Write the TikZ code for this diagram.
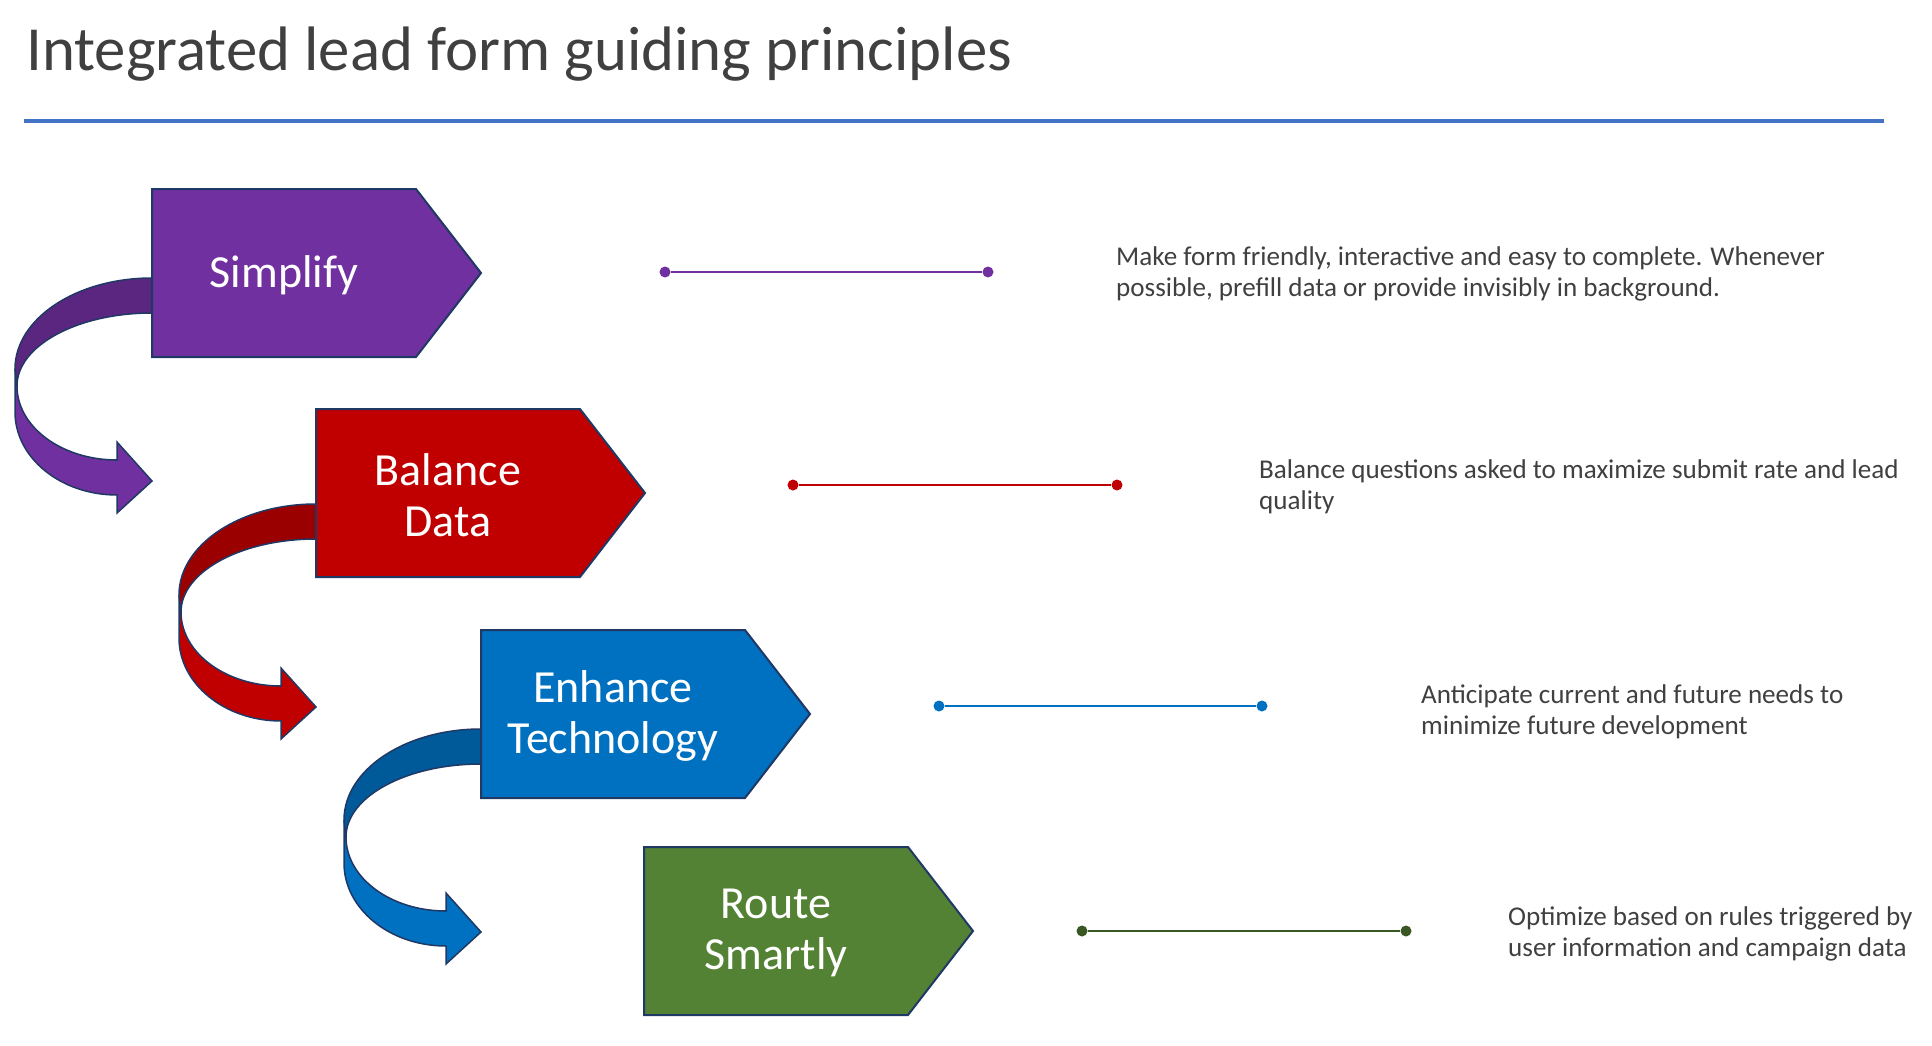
\documentclass[tikz,border=0pt]{standalone}
\usepackage{fontspec}
\setmainfont{Carlito}
\definecolor{cPurple}{HTML}{7030A0}
\definecolor{cRed}{HTML}{C00000}
\definecolor{cBlue}{HTML}{0070C0}
\definecolor{cGreen}{HTML}{548235}
\definecolor{cDarkGreen}{HTML}{385723}
\definecolor{cNavy}{HTML}{203864}
\definecolor{cText}{HTML}{404040}
\definecolor{cRule}{HTML}{4472C4}

% pentagon step box: name, left, top, fill colour, label
\newcommand\chevronbox[5]{%
  \draw[boxline, fill=#4] (#2,#3) -- ++(264,0) -- ++(65,84) -- ++(-65,84) -- ++(-264,0) -- cycle;
  \node[boxlabel] (#1) at ({#2+132},{#3+86}) {#5};
}
% ribbon arrow leaving a box's left edge at (#1,#2) and turning back to the right
\newcommand\ribbonarrow[3]{%
  \path[ribbon, fill=#3]
    ({#1-137},{#2+91}) -- ({#1-137},{#2+134})
    .. controls ({#1-137},{#2+179.8}) and ({#1-91.3},{#2+217}) .. ({#1-35},{#2+217})
    -- ({#1-35},{#2+235}) -- (#1,{#2+203}) -- ({#1-35},{#2+164}) -- ({#1-35},{#2+182})
    .. controls ({#1-90.2},{#2+182}) and ({#1-135},{#2+148.9}) .. ({#1-135},{#2+108})
    -- cycle;
  \path[ribbon, fill=#3!80!black]
    (#1,#2) .. controls ({#1-75.7},#2) and ({#1-137},{#2+40.7}) .. ({#1-137},{#2+91})
    -- ({#1-135},{#2+108})
    .. controls ({#1-135},{#2+67.7}) and ({#1-74.6},{#2+35}) .. (#1,{#2+35})
    -- cycle;
}

\begin{document}
\begin{tikzpicture}[x=1pt, y=-1pt,
  boxline/.style={draw=cNavy, line width=2pt, line join=miter},
  ribbon/.style={draw=cNavy, line width=1.5pt, line join=miter},
  boxlabel/.style={text=white, align=center, inner sep=0pt,
    font=\fontsize{46}{51.5}\selectfont},
  desc/.style={text=cText, anchor=base west, inner sep=0pt,
    font=\fontsize{27.1}{31}\selectfont},
  enddot/.style={circle, fill=#1, inner sep=0pt, minimum size=11pt},
  link/.style={draw=#1, line width=2pt}
]
\useasboundingbox (0,0) rectangle (1932,1046);

% heading and rule
\node[text=cText, anchor=base west, inner sep=0pt,
  font=\fontsize{62.8}{72}\selectfont] (title) at (26,71)
  {Integrated lead form guiding principles};
\coordinate (ruleL) at (24,121);
\coordinate (ruleR) at (1884,121);
\draw[cRule, line width=4pt] (ruleL) -- (ruleR);

% turning arrows between the steps
\ribbonarrow{152}{278}{cPurple}
\ribbonarrow{316}{504}{cRed}
\ribbonarrow{481}{729}{cBlue}

% steps
\chevronbox{simplify}{152}{189}{cPurple}{Simplify}
\chevronbox{balance}{316}{409}{cRed}{Balance\\Data}
\chevronbox{enhance}{481}{630}{cBlue}{Enhance\\Technology}
\chevronbox{route}{644}{847}{cGreen}{Route\\Smartly}

% leader lines
\node[enddot=cPurple] (l1a) at (665,272) {};
\node[enddot=cPurple] (l1b) at (988,272) {};
\draw[link=cPurple] (l1a) -- (l1b);
\node[enddot=cRed] (l2a) at (793,485) {};
\node[enddot=cRed] (l2b) at (1117,485) {};
\draw[link=cRed] (l2a) -- (l2b);
\node[enddot=cBlue] (l3a) at (939,706) {};
\node[enddot=cBlue] (l3b) at (1262,706) {};
\draw[link=cBlue] (l3a) -- (l3b);
\node[enddot=cDarkGreen] (l4a) at (1082,931) {};
\node[enddot=cDarkGreen] (l4b) at (1406,931) {};
\draw[link=cDarkGreen] (l4a) -- (l4b);

% descriptions
\node[desc] (d1a) at (1116,265) {Make form friendly, interactive and easy to complete. Whenever};
\node[desc] (d1b) at (1116,296) {possible, prefill data or provide invisibly in background.};
\node[desc] (d2a) at (1259,478) {Balance questions asked to maximize submit rate and lead};
\node[desc] (d2b) at (1259,509) {quality};
\node[desc] (d3a) at (1421,703) {Anticipate current and future needs to};
\node[desc] (d3b) at (1421,734) {minimize future development};
\node[desc] (d4a) at (1508,925) {Optimize based on rules triggered by};
\node[desc] (d4b) at (1508,956) {user information and campaign data};
\end{tikzpicture}
\end{document}
